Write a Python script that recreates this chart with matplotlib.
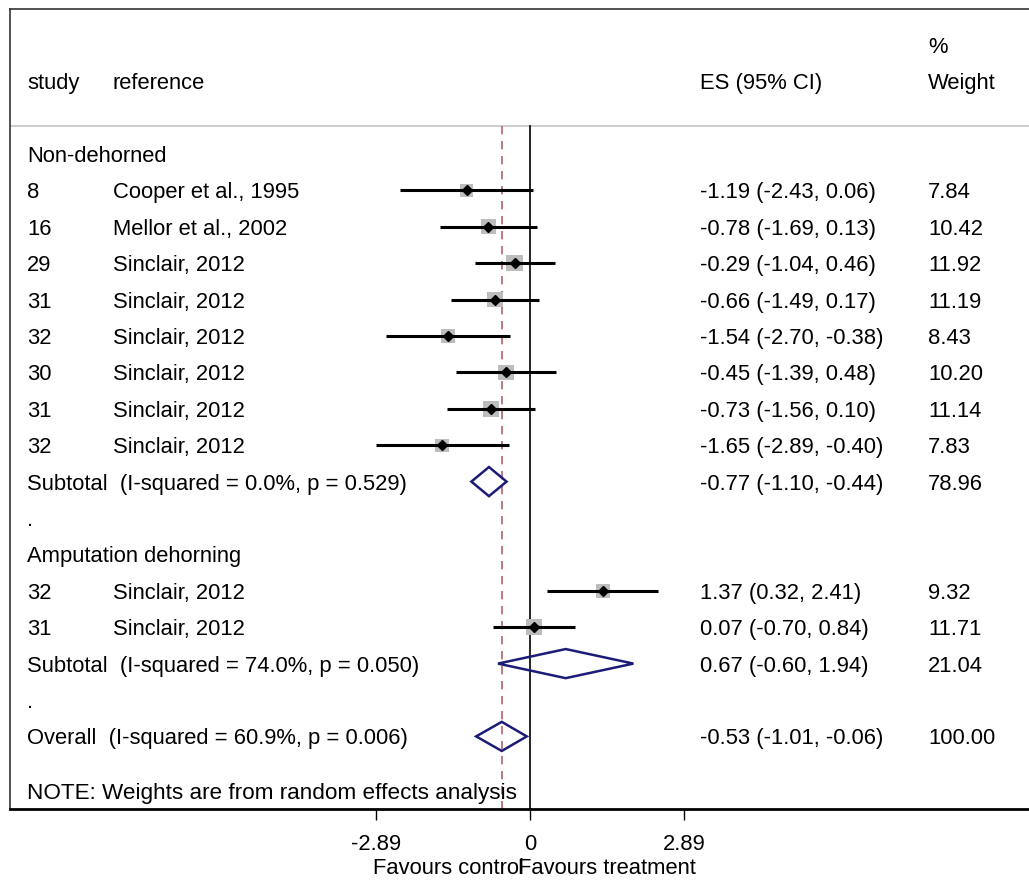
import matplotlib.pyplot as plt
from matplotlib.patches import Polygon

plt.rcParams['font.family'] = ['Liberation Sans', 'DejaVu Sans']

# Non-dehorned studies
g1_study = ["8", "16", "29", "31", "32", "30", "31", "32"]
g1_ref = ["Cooper et al., 1995", "Mellor et al., 2002", "Sinclair, 2012", "Sinclair, 2012",
          "Sinclair, 2012", "Sinclair, 2012", "Sinclair, 2012", "Sinclair, 2012"]
g1_es = [-1.19, -0.78, -0.29, -0.66, -1.54, -0.45, -0.73, -1.65]
g1_lo = [-2.43, -1.69, -1.04, -1.49, -2.70, -1.39, -1.56, -2.89]
g1_hi = [0.06, 0.13, 0.46, 0.17, -0.38, 0.48, 0.10, -0.40]
g1_w = [7.84, 10.42, 11.92, 11.19, 8.43, 10.20, 11.14, 7.83]

# Amputation dehorning studies
g2_study = ["32", "31"]
g2_ref = ["Sinclair, 2012", "Sinclair, 2012"]
g2_es = [1.37, 0.07]
g2_lo = [0.32, -0.70]
g2_hi = [2.41, 0.84]
g2_w = [9.32, 11.71]

# pooled estimates: subtotal 1, subtotal 2, overall
pool_label = ["Subtotal  (I-squared = 0.0%, p = 0.529)",
              "Subtotal  (I-squared = 74.0%, p = 0.050)",
              "Overall  (I-squared = 60.9%, p = 0.006)"]
pool_es = [-0.77, 0.67, -0.53]
pool_lo = [-1.10, -0.60, -1.01]
pool_hi = [-0.44, 1.94, -0.06]
pool_w = [78.96, 21.04, 100.00]

tick_vals = [-2.89, 0, 2.89]
tick_labels = ["-2.89", "0", "2.89"]

# row layout (row index counted from "Non-dehorned" = 0)
g1_rows = list(range(1, 9))
g2_rows = [12, 13]
pool_rows = [9, 14, 16]

W, H = 1029, 880
fig = plt.figure(figsize=(W / 100, H / 100), dpi=100)
px = 53.3  # pixels per unit
x0 = 530   # pixel of zero
left_px, top_px, bot_px = 10, 9, 809
ax = fig.add_axes([left_px / W, (H - bot_px) / H, (W - left_px) / W, (bot_px - top_px) / H])
ax.set_xlim((left_px - x0) / px, (W - x0) / px)
row_h = 36.4
row0 = 154
ax.set_ylim((bot_px - row0) / row_h, (top_px - row0) / row_h)

ax.spines["right"].set_visible(False)
ax.spines["top"].set_color("#333333")
ax.spines["top"].set_linewidth(1.2)
ax.spines["left"].set_color("#333333")
ax.spines["left"].set_linewidth(1.2)
ax.spines["bottom"].set_linewidth(2.0)
ax.set_yticks([])
ax.set_xticks(tick_vals)
ax.set_xticklabels(tick_labels)
ax.tick_params(axis="x", direction="out", length=8, width=1, pad=10, labelsize=15.8)

fs = 15.8
dy = 0.07  # text sits a touch lower than the marks
tr = ax.get_yaxis_transform()
col_study, col_ref, col_es, col_w = 0.0167, 0.101, 0.677, 0.901
grey_row = (126 - row0) / row_h


def txt(x, r, s, **kw):
    ax.text(x, r + dy, s, transform=tr, fontsize=kw.pop("fontsize", fs), va="center", **kw)


# header
txt(col_study, -2, "study")
txt(col_ref, -2, "reference")
txt(col_es, -2, "ES (95% CI)")
txt(col_w, -2, "Weight")
txt(col_w, -3, "%")
ax.axhline(grey_row, color="#c8c8c8", lw=1.3)

# reference lines
ax.plot([0, 0], [grey_row, ax.get_ylim()[0]], color="black", lw=1.2)
ax.plot([pool_es[2], pool_es[2]], [grey_row, ax.get_ylim()[0]], color="#b06468",
        lw=1.2, dashes=(5, 4))

txt(col_study, 0, "Non-dehorned")
txt(col_study, 11, "Amputation dehorning")
txt(col_study, 10, ".")
txt(col_study, 15, ".")
txt(col_study, 17.5, "NOTE: Weights are from random effects analysis", fontsize=16.2)

studies = g1_study + g2_study
refs = g1_ref + g2_ref
es = g1_es + g2_es
lo = g1_lo + g2_lo
hi = g1_hi + g2_hi
wt = g1_w + g2_w
rows = g1_rows + g2_rows

ax.scatter(es, rows, s=[11.5 * w for w in wt], marker="s", color="#bdbdbd", zorder=3,
           linewidths=0)
ax.hlines(rows, lo, hi, color="black", lw=2.2, zorder=4)
ax.plot(es, rows, "D", color="black", ms=5, zorder=5)

for st, rf, e, l, h, w, r in zip(studies, refs, es, lo, hi, wt, rows):
    txt(col_study, r, st)
    txt(col_ref, r, rf)
    txt(col_es, r, f"{e:.2f} ({l:.2f}, {h:.2f})")
    txt(col_w, r, f"{w:.2f}")

for lab, e, l, h, w, r in zip(pool_label, pool_es, pool_lo, pool_hi, pool_w, pool_rows):
    ax.add_patch(Polygon([(l, r), (e, r - 0.4), (h, r), (e, r + 0.4)], closed=True,
                         fill=False, edgecolor="#1c1c78", lw=1.8, zorder=4))
    txt(col_study, r, lab)
    txt(col_es, r, f"{e:.2f} ({l:.2f}, {h:.2f})")
    txt(col_w, r, f"{w:.2f}")

xt = ax.get_xaxis_transform()
fav_y = (bot_px - 868) / (bot_px - top_px)
ax.text((524 - x0) / px, fav_y, "Favours control", transform=xt, fontsize=fs,
        ha="right", va="center")
ax.text((518 - x0) / px, fav_y, "Favours treatment", transform=xt, fontsize=fs,
        ha="left", va="center")

fig.savefig("out.png", dpi=100)
